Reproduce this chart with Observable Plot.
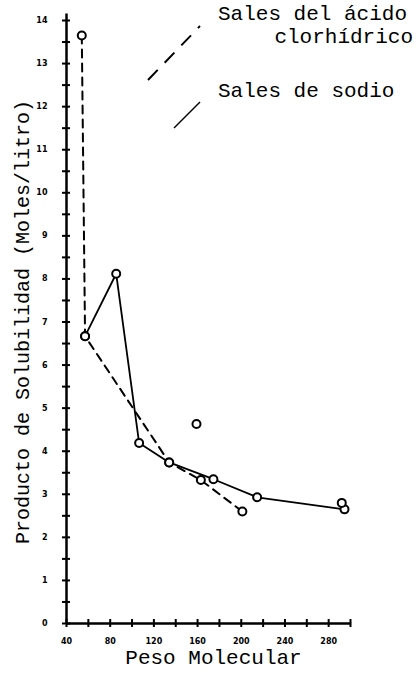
<!DOCTYPE html>
<html>
<head>
<meta charset="utf-8">
<script src="https://cdn.jsdelivr.net/npm/d3@7"></script>
<script src="https://cdn.jsdelivr.net/npm/@observablehq/plot@0.6"></script>
<style>
  html, body { margin: 0; padding: 0; background: #fff; }
  #wrap { position: relative; width: 419px; height: 676px; }
  #legend { position: absolute; left: 0; top: 0; pointer-events: none; }
  #legend text { font-family: "Liberation Mono", "DejaVu Sans Mono", monospace; font-size: 21px; fill: #000; }
</style>
</head>
<body>
<div id="wrap"></div>
<script>
// Sales del ácido clorhídrico (dashed)
const hclPeso = [54, 57, 134, 163, 201];
const hclKps  = [13.65, 6.67, 3.74, 3.33, 2.6];
// Sales de sodio (solid)
const naPeso = [57, 85.5, 106.5, 134, 174.5, 214.5, 294.5];
const naKps  = [6.67, 8.12, 4.19, 3.74, 3.35, 2.93, 2.65];
// Extra plotted points
const extraPeso = [159, 292];
const extraKps  = [4.63, 2.8];

const yTickMarks = d3.range(0, 14.01, 0.5);
const yTickLabels = d3.range(0, 15, 1);
const xTickMarks = d3.range(40, 301, 20);
const xTickLabels = [40, 80, 120, 160, 200, 240, 280];

const legendLabels = ["Sales del ácido", "clorhídrico", "Sales de sodio"];
const xTitle = "Peso Molecular";
const yTitle = "Producto de Solubilidad (Moles/litro)";

const hcl = hclPeso.map((x, i) => ({x, y: hclKps[i]}));
const na = naPeso.map((x, i) => ({x, y: naKps[i]}));
const extra = extraPeso.map((x, i) => ({x, y: extraKps[i]}));
const allPts = [...hcl, ...na, ...extra];

const mono = '"Liberation Mono", "DejaVu Sans Mono", monospace';
const blank = () => "";

const chart = Plot.plot({
  width: 419,
  height: 676,
  marginLeft: 66,
  marginRight: 69,
  marginTop: 20,
  marginBottom: 53,
  x: {domain: [40, 300]},
  y: {domain: [0, 14]},
  style: {background: "#fff", color: "#000", fontFamily: mono},
  marks: [
    Plot.ruleX([40], {y1: 0, y2: 14.15, strokeWidth: 2.5}),
    Plot.ruleY([0], {x1: 40, x2: 301, strokeWidth: 2.5}),
    Plot.axisY({ticks: yTickMarks, tickSize: 8, dx: 4, tickFormat: blank, label: null, strokeWidth: 2}),
    Plot.axisY({ticks: yTickLabels, tickSize: 0, tickPadding: 19, fontSize: 8, fontWeight: "bold", fontFamily: "DejaVu Sans", label: null}),
    Plot.axisX({ticks: xTickMarks, tickSize: 8, dy: -4, tickFormat: blank, label: null, strokeWidth: 2}),
    Plot.axisX({ticks: xTickLabels, tickSize: 0, tickPadding: 15, fontSize: 8, fontWeight: "bold", fontFamily: "DejaVu Sans", label: null}),
    Plot.line(hcl, {x: "x", y: "y", stroke: "#000", strokeWidth: 2, strokeDasharray: "8,6"}),
    Plot.line(na, {x: "x", y: "y", stroke: "#000", strokeWidth: 1.8}),
    Plot.dot(allPts, {x: "x", y: "y", r: 4, stroke: "#000", strokeWidth: 2, fill: "#fff"}),
    Plot.text([yTitle], {frameAnchor: "left", textAnchor: "middle", rotate: -90, dx: -44, fontSize: 20, fontFamily: mono, fill: "#000"}),
    Plot.text([xTitle], {frameAnchor: "bottom", textAnchor: "middle", dx: 5, dy: 40, fontSize: 21, fontFamily: mono, fill: "#000"})
  ]
});

const wrap = document.getElementById("wrap");
wrap.appendChild(chart);

// Legend overlay
const svg = d3.select(wrap).append("svg")
  .attr("id", "legend").attr("width", 419).attr("height", 140);
svg.append("line").attr("x1", 148).attr("y1", 80).attr("x2", 200).attr("y2", 26)
  .attr("stroke", "#000").attr("stroke-width", 2).attr("stroke-dasharray", "14,10");
svg.append("line").attr("x1", 174).attr("y1", 128).attr("x2", 200).attr("y2", 102)
  .attr("stroke", "#000").attr("stroke-width", 1.5);
svg.append("text").attr("x", 218).attr("y", 20).text(legendLabels[0]);
svg.append("text").attr("x", 413).attr("y", 43).attr("text-anchor", "end").text(legendLabels[1]);
svg.append("text").attr("x", 218).attr("y", 97).text(legendLabels[2]);
</script>
</body>
</html>
